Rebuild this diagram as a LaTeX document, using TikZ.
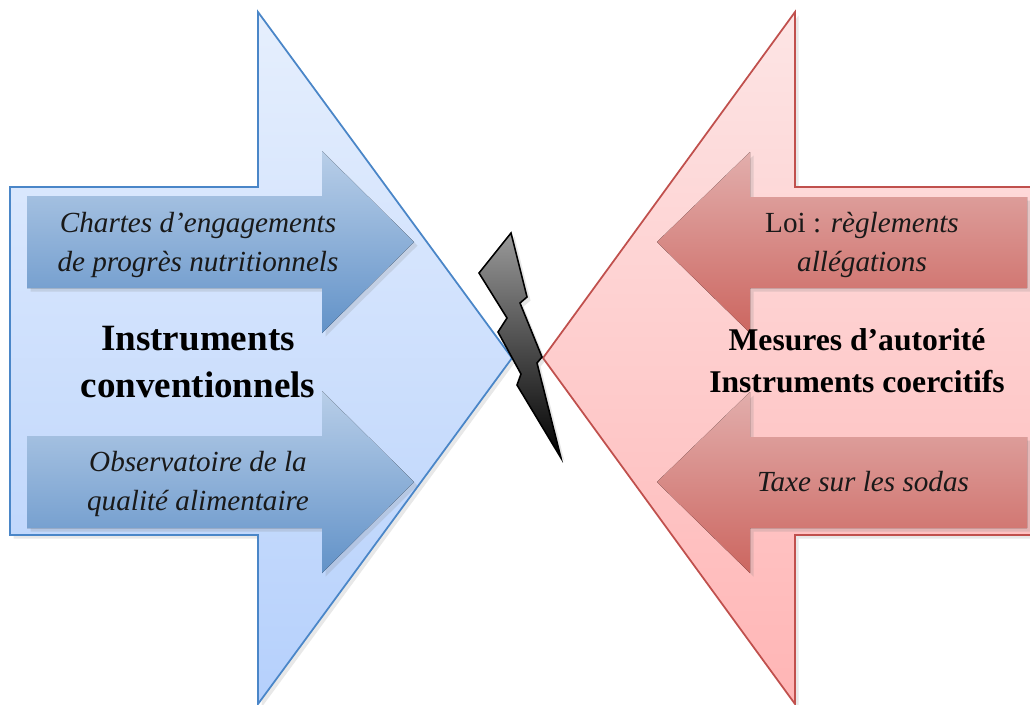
\documentclass[tikz,border=0pt]{standalone}
\usepackage{fontspec}
\setmainfont{Liberation Serif}
\usetikzlibrary{shadows}
\definecolor{bluetop}{RGB}{230,239,253}
\definecolor{bluebot}{RGB}{181,208,252}
\definecolor{blueline}{RGB}{74,134,200}
\definecolor{sbluetop}{RGB}{184,206,232}
\definecolor{sbluebot}{RGB}{98,146,200}
\definecolor{redtop}{RGB}{253,229,229}
\definecolor{redbot}{RGB}{255,181,181}
\definecolor{redline}{RGB}{192,80,77}
\definecolor{sredtop}{RGB}{226,174,172}
\definecolor{sredbot}{RGB}{204,102,96}
\newcommand{\drawbig}{\draw[line width=1pt, drop shadow={shadow xshift=2pt, shadow yshift=-2pt, opacity=.18}]}
\newcommand{\fillsmall}{\fill[drop shadow={shadow xshift=2pt, shadow yshift=-2pt, opacity=.2}]}
\tikzset{
  itext/.style={align=center, text=black!90, font=\fontsize{16.6}{22.2}\selectfont\itshape},
  btextL/.style={align=center, text=black, font=\fontsize{21.1}{27.2}\selectfont\bfseries},
  btextR/.style={align=center, text=black, font=\fontsize{18}{23.8}\selectfont\bfseries}
}

\begin{document}
\begin{tikzpicture}[x=0.02cm,y=-0.02cm]
\clip (0,0) rectangle (1030,704);
% big arrows
\drawbig[draw=blueline, top color=bluetop, bottom color=bluebot] (10,187)--(258,187)--(258,12)--(512,358)--(258,704)--(258,535)--(10,535)--cycle;
\drawbig[draw=redline, top color=redtop, bottom color=redbot] (1040,187)--(795,187)--(795,12)--(543,358)--(795,704)--(795,535)--(1040,535)--cycle;
% small arrows
\foreach \dy in {0,240}{
  \fillsmall[top color=sbluetop, bottom color=sbluebot] (27,196+\dy)--(322,196+\dy)--(322,151+\dy)--(414,242+\dy)--(322,333+\dy)--(322,288+\dy)--(27,288+\dy)--cycle;
  \fillsmall[top color=sredtop, bottom color=sredbot] (1027,197+\dy)--(750,197+\dy)--(750,152+\dy)--(657,242+\dy)--(750,333+\dy)--(750,288+\dy)--(1027,288+\dy)--cycle;
}
% lightning
\draw[line width=0.9pt, top color=black!40, bottom color=black, drop shadow={shadow xshift=2pt, shadow yshift=-2pt, opacity=.2}]
  (511,233)--(479,273)--(507,318)--(498,332)--(521,374)--(517,385)--(561,458)--(537,363)--(542,357)--(520,303)--(527,297)--cycle;
% texts
\node[itext] (chartes) at (198,245) {Chartes d’engagements\\de progrès nutritionnels};
\node[btextL] (conv) at (198,362) {Instruments\\conventionnels};
\node[itext] (obs) at (198,484) {Observatoire de la\\qualité alimentaire};
\node[itext] (loi) at (862,245) {{\upshape Loi :} règlements\\allégations};
\node[btextR] (mesures) at (857,361) {Mesures d’autorité\\Instruments coercitifs};
\node[itext] (taxe) at (863,482) {Taxe sur les sodas};
\end{tikzpicture}
\end{document}
